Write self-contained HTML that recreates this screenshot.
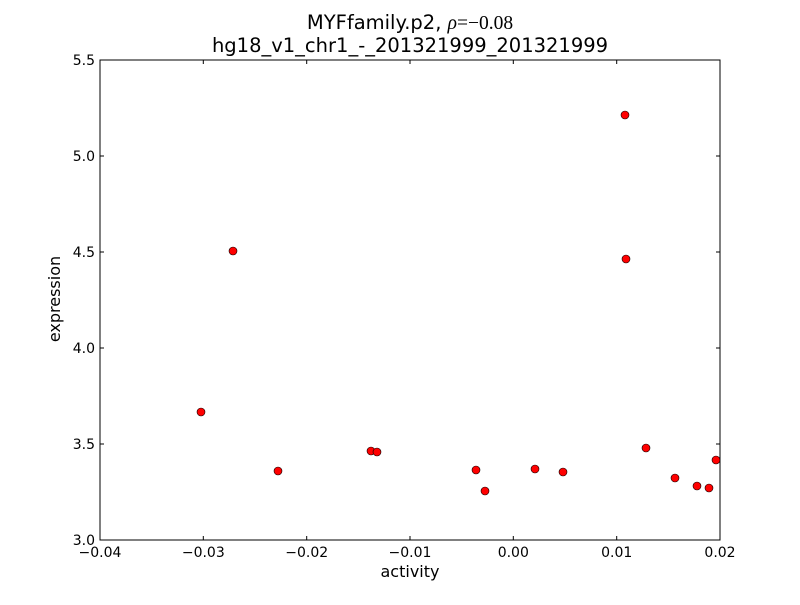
<!DOCTYPE html>
<html><head><style>body{margin:0;background:#fff}</style></head><body>
<svg width="800" height="600" xmlns="http://www.w3.org/2000/svg" font-family="'DejaVu Sans', sans-serif">
<rect width="800" height="600" fill="#fff"/>
<rect x="100" y="60" width="620" height="480" fill="#fff" stroke="#000" stroke-width="1"/>
<g stroke="#000" stroke-width="1">
<line x1="100" y1="540" x2="100" y2="536"/><line x1="100" y1="60" x2="100" y2="64"/>
<line x1="203.3" y1="540" x2="203.3" y2="536"/><line x1="203.3" y1="60" x2="203.3" y2="64"/>
<line x1="306.7" y1="540" x2="306.7" y2="536"/><line x1="306.7" y1="60" x2="306.7" y2="64"/>
<line x1="410" y1="540" x2="410" y2="536"/><line x1="410" y1="60" x2="410" y2="64"/>
<line x1="513.3" y1="540" x2="513.3" y2="536"/><line x1="513.3" y1="60" x2="513.3" y2="64"/>
<line x1="616.7" y1="540" x2="616.7" y2="536"/><line x1="616.7" y1="60" x2="616.7" y2="64"/>
<line x1="720" y1="540" x2="720" y2="536"/><line x1="720" y1="60" x2="720" y2="64"/>
<line x1="100" y1="60" x2="104" y2="60"/><line x1="720" y1="60" x2="716" y2="60"/>
<line x1="100" y1="156" x2="104" y2="156"/><line x1="720" y1="156" x2="716" y2="156"/>
<line x1="100" y1="252" x2="104" y2="252"/><line x1="720" y1="252" x2="716" y2="252"/>
<line x1="100" y1="348" x2="104" y2="348"/><line x1="720" y1="348" x2="716" y2="348"/>
<line x1="100" y1="444" x2="104" y2="444"/><line x1="720" y1="444" x2="716" y2="444"/>
<line x1="100" y1="540" x2="104" y2="540"/><line x1="720" y1="540" x2="716" y2="540"/>
</g>
<g font-size="14" text-anchor="middle" fill="#000">
<text x="100" y="557">−0.04</text><text x="203.3" y="557">−0.03</text><text x="306.7" y="557">−0.02</text>
<text x="410" y="557">−0.01</text><text x="513.3" y="557">0.00</text><text x="616.7" y="557">0.01</text><text x="720" y="557">0.02</text>
</g>
<text x="410" y="577" font-size="16" text-anchor="middle">activity</text>
<g font-size="14" text-anchor="end" fill="#000">
<text x="95" y="65">5.5</text><text x="95" y="161">5.0</text><text x="95" y="257">4.5</text>
<text x="95" y="353">4.0</text><text x="95" y="449">3.5</text><text x="95" y="545">3.0</text>
</g>
<text transform="translate(60,299) rotate(-90)" font-size="16" text-anchor="middle">expression</text>
<text x="410" y="29" font-size="19.5" text-anchor="middle">MYFfamily.p2, <tspan font-family="'Liberation Serif', serif" font-style="italic">ρ</tspan><tspan font-family="'Liberation Serif', serif">=−0.08</tspan></text>
<text x="410" y="52" font-size="19.5" text-anchor="middle">hg18_v1_chr1_-_201321999_201321999</text>
<g fill="#f00" stroke="#000" stroke-width="0.6">
<circle cx="625" cy="115" r="4"/><circle cx="626" cy="259" r="4"/><circle cx="233" cy="251" r="4"/>
<circle cx="201" cy="412" r="4"/><circle cx="278" cy="471" r="4"/><circle cx="371" cy="451" r="4"/>
<circle cx="377" cy="452" r="4"/><circle cx="476" cy="470" r="4"/><circle cx="485" cy="491" r="4"/>
<circle cx="535" cy="469" r="4"/><circle cx="563" cy="472" r="4"/><circle cx="646" cy="448" r="4"/>
<circle cx="675" cy="478" r="4"/><circle cx="697" cy="486" r="4"/><circle cx="709" cy="488" r="4"/>
<circle cx="716" cy="460" r="4"/>
</g>
</svg>
</body></html>
